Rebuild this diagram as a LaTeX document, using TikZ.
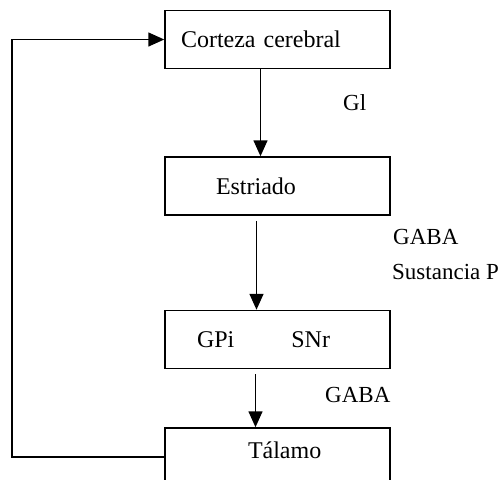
\documentclass[tikz,border=0pt]{standalone}
\usepackage{fontspec}
\setmainfont{Liberation Serif}
\usetikzlibrary{arrows.meta,positioning}

\begin{document}
\begin{tikzpicture}[x=1pt,y=-1pt,>={Triangle[length=16pt,width=14pt]},
 box/.style={draw,line width=1.5pt,minimum width=225pt,minimum height=58pt,
 inner sep=0pt,text width=225pt,align=left,font=\fontsize{24}{28}\selectfont},
 lbl/.style={anchor=base west,inner sep=0pt,font=\fontsize{23}{28}\selectfont},
 link/.style={->,line width=1.5pt}]
\clip (0,0) rectangle (499,480);
\node[box] (cc) at (277.5,39.5) {\hspace*{16pt}Corteza cerebral};
\node[box,below=87pt of cc] (es) {\hspace*{51pt}Estriado};
\node[box,below=94pt of es] (gp) {\hspace*{32pt}GPi\hspace{57pt}SNr};
\node[box,below=58pt of gp,text height=17pt,text depth=14pt] (ta)
 {\hspace*{83pt}Tálamo};
\node[lbl] (gl) at (343,110) {Gl};
\node[lbl] (gaba) at (393,244) {GABA};
\node[lbl] (sp) at (392,279) {Sustancia P};
\node[lbl] (gabb) at (325,402) {GABA};
\coordinate (rt) at (12,0);
\draw[link] ([xshift=-17pt]cc.south) -- ([xshift=-17pt]es.north);
\draw[link,shorten <=5pt] ([xshift=-21pt]es.south) -- ([xshift=-21pt]gp.north);
\draw[link,shorten <=5pt] ([xshift=-22pt]gp.south) -- ([xshift=-22pt]ta.north);
\draw[link] (ta.west) -- (ta.west -| rt) |- (cc.west);
\end{tikzpicture}
\end{document}
